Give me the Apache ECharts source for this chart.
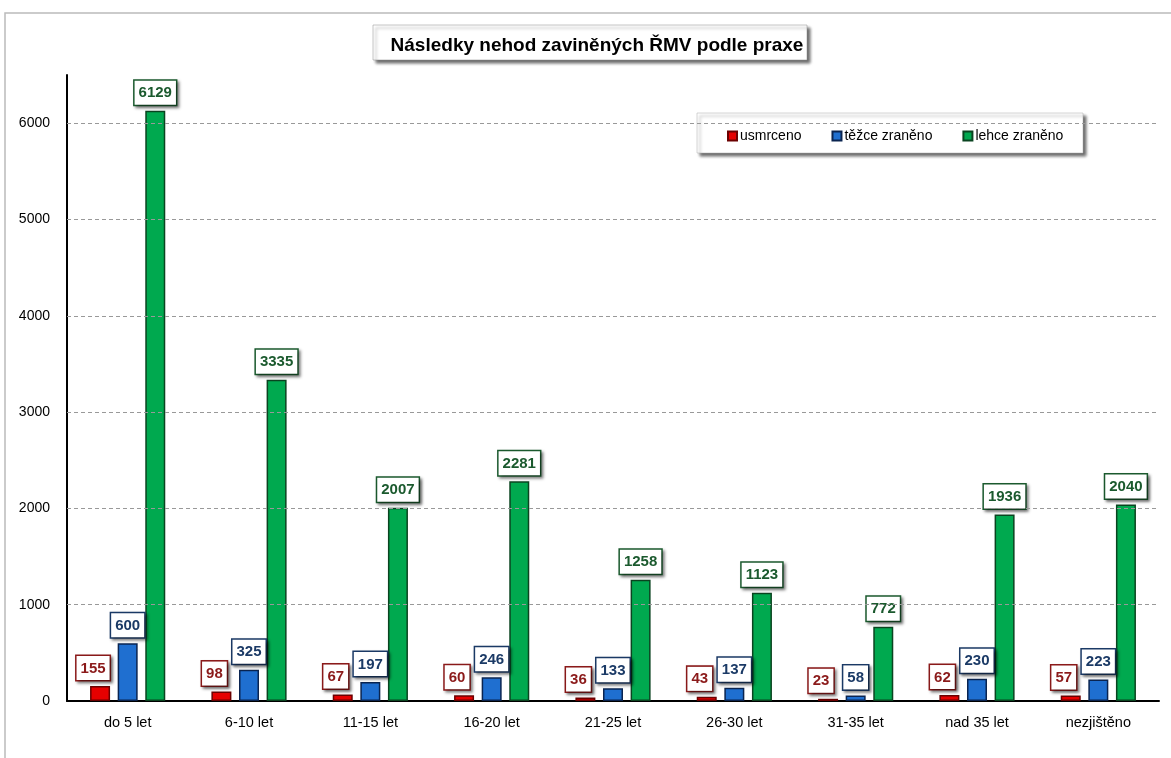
<!DOCTYPE html>
<html><head><meta charset="utf-8">
<script src="https://cdn.jsdelivr.net/npm/echarts@6/dist/echarts.min.js"></script>
<style>html,body{margin:0;padding:0;background:#fff}#c{width:1171px;height:758px}</style>
</head><body><div id="c"></div>
<script>
const categories = ['do 5 let','6-10 let','11-15 let','16-20 let','21-25 let','26-30 let','31-35 let','nad 35 let','nezjištěno'];
const usmrceno = [155,98,67,60,36,43,23,62,57];
const tezce = [600,325,197,246,133,137,58,230,223];
const lehce = [6129,3335,2007,2281,1258,1123,772,1936,2040];
const gridValues = [1000,2000,3000,4000,5000,6000];
const seriesNames = ['usmrceno','těžce zraněno','lehce zraněno'];

const FONT = 'Liberation Sans';
function lbl(col, dx){
  return {show:true,position:'top',distance:6,offset:[dx,0],fontFamily:FONT,fontWeight:'bold',fontSize:15,color:col,
    backgroundColor:'#fff',borderColor:col,borderWidth:1.5,padding:[5,4,4,4],
    shadowColor:'rgba(0,0,0,0.45)',shadowBlur:3,shadowOffsetX:2,shadowOffsetY:2};
}
const chart = echarts.init(document.getElementById('c'));
chart.setOption({
  animation:false,
  graphic:[
    {type:'polyline',shape:{points:[[5,758],[5,13],[1171,13]]},style:{stroke:'#bbb',lineWidth:1.5,fill:null},z:-1},
    {type:'rect',shape:{x:373,y:25,width:434,height:35},style:{fill:'#fff',stroke:'#888',lineWidth:0.5,shadowColor:'rgba(0,0,0,0.6)',shadowBlur:3,shadowOffsetX:3,shadowOffsetY:3},z:1},
    {type:'rect',shape:{x:697,y:113,width:386,height:40},style:{fill:'#fff',stroke:'#aaa',lineWidth:0.5,shadowColor:'rgba(0,0,0,0.6)',shadowBlur:3,shadowOffsetX:3,shadowOffsetY:3},z:1}
  ],
  title:{text:'Následky nehod zaviněných ŘMV podle praxe',left:592,top:31,textAlign:'center',
    textStyle:{fontFamily:FONT,fontWeight:'bold',fontSize:19,color:'#000'},z:3},
  legend:{data:seriesNames,left:722,top:124,itemWidth:9,itemHeight:9,itemGap:30,icon:'rect',
    textStyle:{fontFamily:FONT,fontSize:14,color:'#000',padding:[0,0,0,-2]},z:3},
  grid:{left:67,right:12,top:75,bottom:57,containLabel:false},
  xAxis:{type:'category',data:categories,
    axisLine:{lineStyle:{color:'#000',width:2}},axisTick:{show:false},
    axisLabel:{fontFamily:FONT,fontSize:14.5,color:'#000',margin:14}},
  yAxis:{type:'value',min:0,max:6500,interval:1000,
    axisLine:{show:true,lineStyle:{color:'#000',width:2}},axisTick:{show:false},
    splitLine:{show:false},
    axisLabel:{fontFamily:FONT,fontSize:14,color:'#000',margin:17,
      formatter:v=>(v%1000===0?String(v):'')}},
  series:[
    {name:seriesNames[0],type:'bar',data:usmrceno,barWidth:20,barGap:'38%',
      itemStyle:{color:'#e60000',borderColor:'#6a0000',borderWidth:1.5},label:lbl('#8b1a1a',-7),
      markLine:{silent:true,symbol:'none',label:{show:false},
        lineStyle:{color:'#999',type:[4,3],width:1},data:gridValues.map(v=>({yAxis:v}))}},
    {name:seriesNames[1],type:'bar',data:tezce,barWidth:20,
      itemStyle:{color:'#1f6fd0',borderColor:'#0a2450',borderWidth:1.5},label:lbl('#1b3a66',0)},
    {name:seriesNames[2],type:'bar',data:lehce,barWidth:20,
      itemStyle:{color:'#00a94f',borderColor:'#0a4420',borderWidth:1.5},label:lbl('#1b5a2e',0)}
  ],
  color:['#d00000','#1a3f8f','#0a8a30']
});
</script></body></html>
